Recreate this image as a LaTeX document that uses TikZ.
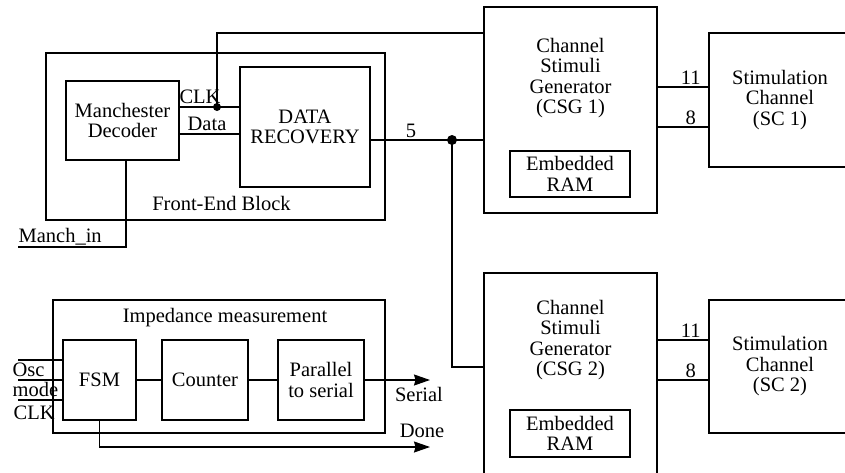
\documentclass[tikz,border=0pt]{standalone}
\usepackage{fontspec}
\setmainfont{Liberation Serif}
\usetikzlibrary{arrows.meta}

\tikzset{
  blk/.style={draw, rectangle, inner sep=0pt, align=center},
  txt/.style={inner sep=1.5pt, align=center},
  outarrow/.style={-{Stealth[length=16pt,width=11pt,inset=1.5pt]}},
  junction/.style={circle, fill, inner sep=0pt, minimum size=#1},
}

\begin{document}
\begin{tikzpicture}[x=1pt, y=-1pt, line width=1.2pt, font=\fontsize{20.5}{20.5}\selectfont]
\useasboundingbox (0,0) rectangle (845,472);
\clip (0,0) rectangle (845,472);

% front-end block
\node[blk, minimum width=339pt, minimum height=167pt] (frontend) at (215.5,136.5) {};
\node[txt] (frontendlbl) at (221.5,203) {Front-End Block};
\node[blk, minimum width=113pt, minimum height=79pt] (mdec) at (122.5,120.5) {Manchester\\Decoder};
\node[blk, minimum width=130pt, minimum height=120pt] (drec) at (305,127) {DATA\\RECOVERY};

% channel stimuli generators
\node[blk, minimum width=173pt, minimum height=206pt] (csg1) at (570.5,110) {};
\node[txt] (csg1lbl) at (570.5,78) {Channel\\Stimuli\\Generator\\(CSG 1)};
\node[blk, minimum width=120pt, minimum height=46pt] (ram1) at (570,174) {Embedded\\RAM};

\node[blk, minimum width=173pt, minimum height=212pt] (csg2) at (570.5,379) {};
\node[txt] (csg2lbl) at (570.5,340) {Channel\\Stimuli\\Generator\\(CSG 2)};
\node[blk, minimum width=120pt, minimum height=47pt] (ram2) at (570,433.5) {Embedded\\RAM};

% stimulation channels
\node[blk, minimum width=142pt, minimum height=134pt] (sc1) at (780,100) {Stimulation\\Channel\\(SC 1)};
\node[blk, minimum width=142pt, minimum height=133pt] (sc2) at (780,366.5) {Stimulation\\Channel\\(SC 2)};

% impedance measurement
\node[blk, minimum width=332pt, minimum height=133pt] (imp) at (219,366.5) {};
\node[txt] (implbl) at (225,318) {Impedance measurement};
\node[blk, minimum width=73pt, minimum height=80pt] (fsm) at (99.5,380) {FSM};
\node[blk, minimum width=86pt, minimum height=80pt] (counter) at (205,380) {Counter};
\node[blk, minimum width=86pt, minimum height=80pt] (p2s) at (321,380) {Parallel\\to serial};

% decoder to data recovery
\node[junction=8pt] (clkjn) at (217,107) {};
\draw (mdec.east |- clkjn) -- (drec.west |- clkjn);
\draw (mdec.east |- 0,134) -- (drec.west |- 0,134);
\node[txt] (clklbl) at (200,97) {CLK};
\node[txt] (datalbl) at (207,124) {Data};
\draw (clkjn.center) |- (csg1.west |- 0,33);

\coordinate (manchin) at (18,247);
\draw ([xshift=3.5pt]mdec.south) |- (manchin);
\node[anchor=base west, inner sep=0pt] (manchlbl) at (18,242) {Manch\_in};

% 5-bit bus to both generators
\node[junction=10pt] (busjn) at (452,140) {};
\draw ([yshift=-13pt]drec.east) -- (busjn.center) -- (csg1.west |- busjn);
\node[txt] (buslbl) at (411,131) {5};
\draw (busjn.center) |- (csg2.west |- 0,367);

% generator outputs
\draw (csg1.east |- 0,87) -- (sc1.west |- 0,87) node[txt, pos=0.65, above] (sc1a) {11};
\draw (csg1.east |- 0,127) -- (sc1.west |- 0,127) node[txt, pos=0.65, above] (sc1b) {8};
\draw (csg2.east |- 0,340) -- (sc2.west |- 0,340) node[txt, pos=0.65, above] (sc2a) {11};
\draw (csg2.east |- 0,380) -- (sc2.west |- 0,380) node[txt, pos=0.65, above] (sc2b) {8};

% measurement chain
\foreach \yy/\nm in {360/osc,380/mode,400/clk}{
  \coordinate (\nm in) at (18,\yy);
  \draw (\nm in) -- (fsm.west |- \nm in);
}
\node[align=left, anchor=west, inner sep=0pt] (oscmode) at (12,380) {Osc\\mode};
\node[anchor=west, inner sep=0pt] (clkinlbl) at (13,413) {CLK};

\draw (fsm) -- (counter) -- (p2s);
\coordinate (serialout) at (430,380);
\draw[outarrow] (p2s) -- (serialout);
\node[txt] (seriallbl) at (419,394) {Serial};
\coordinate (doneout) at (430,447);
\draw[outarrow] (fsm.south) |- (doneout);
\node[txt] (donelbl) at (422,431) {Done};
\end{tikzpicture}
\end{document}
